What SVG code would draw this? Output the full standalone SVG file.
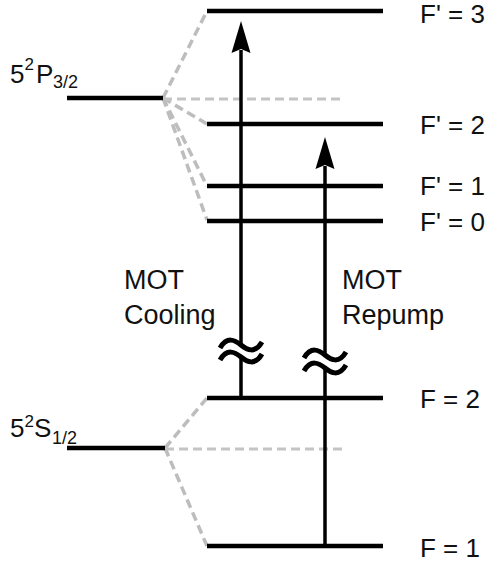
<svg xmlns="http://www.w3.org/2000/svg" width="494" height="562" viewBox="0 0 494 562">
<style>
.lvl{stroke:#000;stroke-width:4.5;fill:none}
.shaft{stroke:#000;stroke-width:3.5;fill:none}
.gd{stroke:#bdbdbd;stroke-width:3.5;stroke-dasharray:9 5;fill:none}
.gh{stroke:#c4c4c4;stroke-width:3;stroke-dasharray:9 5;fill:none}
.wave{stroke:#000;stroke-width:5;fill:none}
.t{font-family:"Liberation Sans",Arial,sans-serif;font-size:26px;fill:#111}
.m{font-size:27px}
</style>
<defs>
<path id="ah" d="M0,0 L9.5,32 L0,28 L-9.5,32 Z" fill="#000"/>
<path id="wv" d="M-21,3 C-14,-9 -6,-5 0,0 C6,5 14,9 21,-3" class="wave"/>
</defs>
<rect width="494" height="562" fill="#fff"/>
<g id="connectors">
<path class="gd" d="M163,98 L207,11"/>
<path class="gd" d="M163,98 L207,124"/>
<path class="gd" d="M163,98 L207,186"/>
<path class="gd" d="M163,98 L207,220"/>
<path class="gh" d="M163,99 L345,99"/>
<path class="gd" d="M165,448 L207,398"/>
<path class="gd" d="M165,448 L207,546"/>
<path class="gh" d="M165,449 L345,449"/>
</g>
<g id="P32">
<line class="lvl" x1="67" y1="98" x2="163" y2="98"/>
<text class="t" x="10" y="83">5<tspan font-size="17" dy="-13">2</tspan><tspan x="36" dy="13">P</tspan><tspan x="53" font-size="18" dy="5">3/2</tspan></text>
</g>
<g id="S12">
<line class="lvl" x1="67" y1="448" x2="165" y2="448"/>
<text class="t" x="10" y="437">5<tspan font-size="17" dy="-10.5">2</tspan><tspan x="34" dy="10.5">S</tspan><tspan x="52" font-size="18" dy="7">1/2</tspan></text>
</g>
<g id="Fp3"><line class="lvl" x1="207" y1="11" x2="383" y2="11"/><text class="t" x="420" y="23">F' = 3</text></g>
<g id="Fp2"><line class="lvl" x1="207" y1="124" x2="383" y2="124"/><text class="t" x="420" y="134">F' = 2</text></g>
<g id="Fp1"><line class="lvl" x1="207" y1="186" x2="383" y2="186"/><text class="t" x="420" y="195">F' = 1</text></g>
<g id="Fp0"><line class="lvl" x1="207" y1="221" x2="383" y2="221"/><text class="t" x="420" y="231">F' = 0</text></g>
<g id="F2"><line class="lvl" x1="207" y1="398" x2="383" y2="398"/><text class="t" x="420" y="408">F = 2</text></g>
<g id="F1"><line class="lvl" x1="207" y1="546" x2="383" y2="546"/><text class="t" x="420" y="557">F = 1</text></g>
<g id="cooling">
<line class="shaft" x1="241" y1="50" x2="241" y2="345"/>
<line class="shaft" x1="241" y1="357" x2="241" y2="398"/>
<use href="#ah" x="241" y="21"/>
<use href="#wv" x="241" y="345"/>
<use href="#wv" x="241" y="357"/>
<text class="t m" x="124" y="289">MOT</text>
<text class="t m" x="124" y="324">Cooling</text>
</g>
<g id="repump">
<line class="shaft" x1="325" y1="166" x2="325" y2="355"/>
<line class="shaft" x1="325" y1="368" x2="325" y2="546"/>
<use href="#ah" x="325" y="137"/>
<use href="#wv" x="325" y="355"/>
<use href="#wv" x="325" y="368"/>
<text class="t m" x="342" y="289">MOT</text>
<text class="t m" x="342" y="324">Repump</text>
</g>
</svg>
